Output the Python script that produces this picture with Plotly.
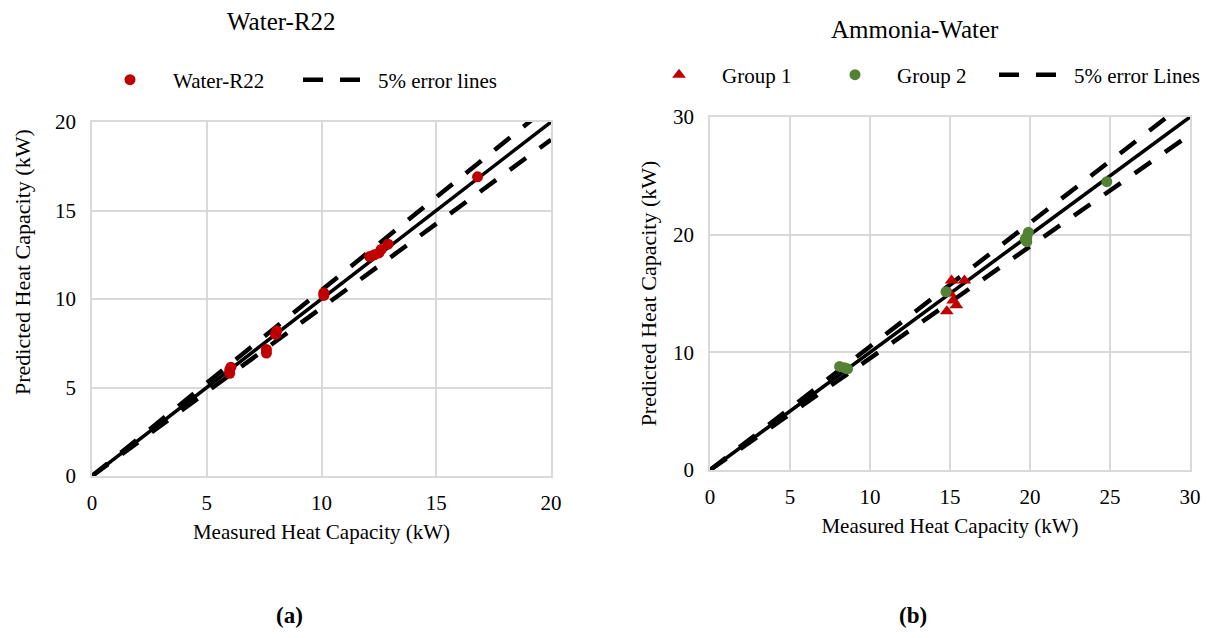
import plotly.graph_objects as go

# ---------------- data ----------------
# (a) Water-R22
r22_measured = [6.0, 6.0, 6.05, 7.6, 7.6, 8.0, 8.05, 10.1, 10.1, 12.1, 12.3, 12.5, 12.6, 12.9, 16.8]
r22_predicted = [5.8, 6.0, 6.15, 6.95, 7.15, 8.0, 8.2, 10.2, 10.35, 12.4, 12.5, 12.6, 12.8, 13.1, 16.9]

# (b) Ammonia-Water
g1_measured = [14.8, 15.0, 15.1, 15.2, 15.4, 15.9]
g1_predicted = [13.5, 15.0, 16.1, 14.4, 14.0, 16.1]
g2_measured = [8.1, 8.4, 8.6, 14.75, 19.7, 19.8, 19.8, 19.9, 24.8]
g2_predicted = [8.8, 8.7, 8.6, 15.15, 19.6, 19.4, 19.8, 20.2, 24.5]

err_pct = 0.05
left_range = [0, 20]
right_range = [0, 30]
left_ticks = [0, 5, 10, 15, 20]
right_xticks = [0, 5, 10, 15, 20, 25, 30]
right_yticks = [0, 10, 20, 30]

RED = "#C00000"
GREEN = "#548235"
GRID = "#d9d9d9"
FONT = "'Times New Roman', 'Liberation Serif', Tinos, serif"

# the page body adds an 8px margin, so the figure is 16px smaller than the window
OFF = 8
W, H = 1210 - 2 * OFF, 638 - 2 * OFF


def px_x(v):
    return (v - OFF) / W


def px_y(v):
    return 1 - (v - OFF) / H


fig = go.Figure()


def ref_lines(rng, xa, ya, legend_name, label):
    xs = [rng[0], rng[1]]
    fig.add_trace(go.Scatter(x=xs, y=xs, mode="lines", line=dict(color="black", width=3.5),
                             showlegend=False, xaxis=xa, yaxis=ya, hoverinfo="skip"))
    up = [v * (1 + err_pct) for v in xs]
    lo = [v * (1 - err_pct) for v in xs]
    fig.add_trace(go.Scatter(x=xs, y=up, mode="lines", name=label,
                             line=dict(color="black", width=4.5, dash="20px,17px"),
                             showlegend=True, legend=legend_name,
                             xaxis=xa, yaxis=ya, hoverinfo="skip"))
    fig.add_trace(go.Scatter(x=xs, y=lo, mode="lines", name=label,
                             line=dict(color="black", width=4.5, dash="20px,17px"),
                             showlegend=False, xaxis=xa, yaxis=ya, hoverinfo="skip"))


# left chart
ref_lines(left_range, "x", "y", "legend2", "5% error lines")
fig.add_trace(go.Scatter(x=r22_measured, y=r22_predicted, mode="markers", name="Water-R22",
                         marker=dict(color=RED, size=11, symbol="circle"),
                         legend="legend", xaxis="x", yaxis="y"))

# right chart
ref_lines(right_range, "x2", "y2", "legend5", "5% error Lines")
fig.add_trace(go.Scatter(x=g1_measured, y=g1_predicted, mode="markers", name="Group 1",
                         marker=dict(color=RED, size=12, symbol="triangle-up"),
                         legend="legend3", xaxis="x2", yaxis="y2"))
fig.add_trace(go.Scatter(x=g2_measured, y=g2_predicted, mode="markers", name="Group 2",
                         marker=dict(color=GREEN, size=11, symbol="circle"),
                         legend="legend4", xaxis="x2", yaxis="y2"))

axis_common = dict(showgrid=True, gridcolor=GRID, gridwidth=1.5, zeroline=False,
                   showline=True, linecolor=GRID, linewidth=1.5, mirror=True,
                   ticks="", automargin=False,
                   tickfont=dict(family=FONT, size=21, color="black"))
title_font = dict(family=FONT, size=21, color="black")

fig.update_layout(
    width=W, height=H,
    margin=dict(l=0, r=0, t=0, b=0, autoexpand=False),
    paper_bgcolor="white", plot_bgcolor="white",
    font=dict(family=FONT, color="black", size=21),
    xaxis=dict(domain=[px_x(92), px_x(551)], range=left_range, tickvals=left_ticks, anchor="y",
               ticklabelstandoff=7,
               title=dict(text="Measured Heat Capacity (kW)", font=title_font, standoff=10),
               **axis_common),
    yaxis=dict(domain=[px_y(476), px_y(122)], range=left_range, tickvals=left_ticks, anchor="x",
               ticklabelstandoff=10, **axis_common),
    xaxis2=dict(domain=[px_x(710), px_x(1190)], range=right_range, tickvals=right_xticks, anchor="y2",
                ticklabelstandoff=7,
                title=dict(text="Measured Heat Capacity (kW)", font=title_font, standoff=10),
                **axis_common),
    yaxis2=dict(domain=[px_y(470), px_y(117)], range=right_range, tickvals=right_yticks, anchor="x2",
                ticklabelstandoff=10,
                title=dict(text="Predicted Heat Capacity (kW)", font=dict(family=FONT, size=22, color="black"),
                           standoff=10),
                **axis_common),
)

leg_common = dict(orientation="h", xanchor="left", yanchor="middle", bgcolor="rgba(0,0,0,0)",
                  font=dict(family=FONT, size=21, color="black"))
fig.update_layout(
    legend=dict(x=px_x(87), y=px_y(80), itemwidth=76, **leg_common),
    legend2=dict(x=px_x(298), y=px_y(80), itemwidth=70, **leg_common),
    legend3=dict(x=px_x(636), y=px_y(75), itemwidth=76, **leg_common),
    legend4=dict(x=px_x(813), y=px_y(75), itemwidth=74, **leg_common),
    legend5=dict(x=px_x(994), y=px_y(75), itemwidth=70, **leg_common),
)


def note(text, x, y, size, angle=0, yanchor="middle"):
    fig.add_annotation(text=text, x=px_x(x), y=px_y(y), xref="paper", yref="paper",
                       xanchor="center", yanchor=yanchor, textangle=angle,
                       showarrow=False, font=dict(family=FONT, size=size, color="black"))


note("Water-R22", 281, 22, 25)
note("Ammonia-Water", 915, 30, 25)
note("<b>(a)</b>", 289, 630, 23, yanchor="bottom")
note("<b>(b)</b>", 913, 630, 23, yanchor="bottom")
# left y-axis title (placed above the plot centre, as in the original)
note("Predicted Heat Capacity (kW)", 22, 262, 22, angle=-90)

fig.write_html("out.html")
